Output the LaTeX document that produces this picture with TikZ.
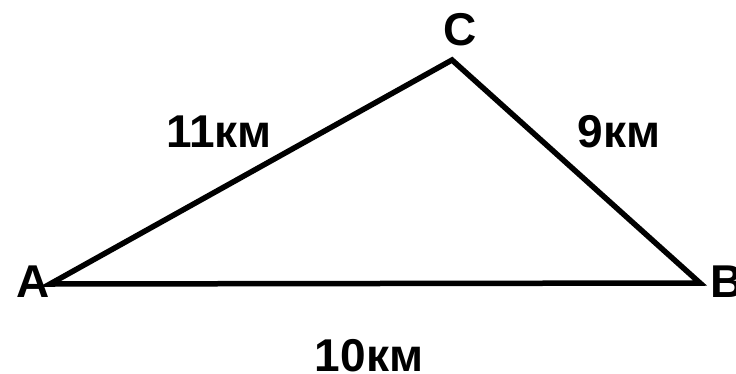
\documentclass[tikz,border=0pt]{standalone}
\usepackage{fontspec}
\setmainfont{Liberation Sans}
\begin{document}
\begin{tikzpicture}[x=1pt,y=-1pt,
  lbl/.style={font=\bfseries\fontsize{46}{46}\selectfont, inner sep=0pt, anchor=base},
  side/.style={line width=5.5pt, line join=miter}]
\useasboundingbox (0,0) rectangle (736,373);
\coordinate (A) at (50,284);
\coordinate (B) at (700,283);
\coordinate (C) at (452,60);
\draw[side] (A) -- (C) -- (B) -- cycle;
\node[lbl] (la) at (33,297) {A};
\node[lbl, anchor=base west] (lb) at (710,297) {B};
\node[lbl] (lc) at (460,45) {C};
\node[lbl] (l11) at (219,147) {11км};
\node[lbl] (l9) at (619,147) {9км};
\node[lbl] (l10) at (369,371) {10км};
\end{tikzpicture}
\end{document}
